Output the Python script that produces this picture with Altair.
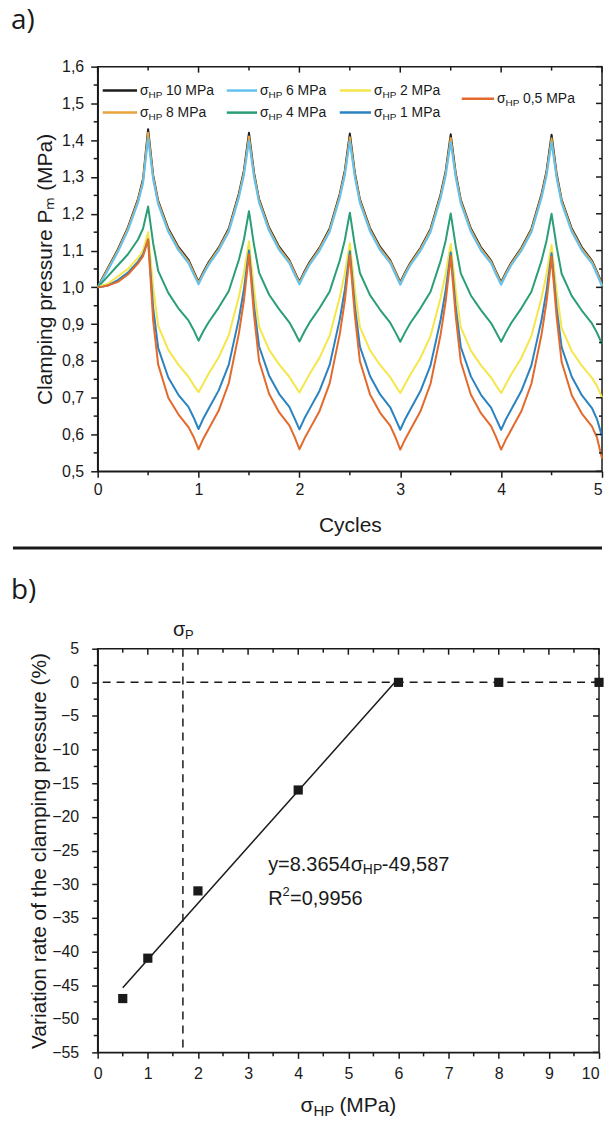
import altair as alt
import pandas as pd

FONT = "Liberation Sans"
TAG_FONT = "Open Sans"
INK = "#1a1a1a"

# ---------------- panel a : clamping pressure vs cycles ----------------
cycles = [0, 0.05, 0.1, 0.2, 0.3, 0.4, 0.45, 0.5, 0.55, 0.6, 0.7, 0.8, 0.9, 0.95,
          1, 1.05, 1.1, 1.2, 1.3, 1.4, 1.45, 1.5, 1.55, 1.6, 1.7, 1.8, 1.9, 1.95,
          2, 2.05, 2.1, 2.2, 2.3, 2.4, 2.45, 2.5, 2.55, 2.6, 2.7, 2.8, 2.9, 2.95,
          3, 3.05, 3.1, 3.2, 3.3, 3.4, 3.45, 3.5, 3.55, 3.6, 3.7, 3.8, 3.9, 3.95,
          4, 4.05, 4.1, 4.2, 4.3, 4.4, 4.45, 4.5, 4.55, 4.6, 4.7, 4.8, 4.9, 4.95,
          5]

p_10 = [1.000, 1.027, 1.052, 1.103, 1.163, 1.240, 1.295, 1.430, 1.305, 1.235, 1.160, 1.110, 1.075, 1.045,
        1.015, 1.043, 1.068, 1.108, 1.160, 1.255, 1.318, 1.420, 1.312, 1.240, 1.162, 1.110, 1.074, 1.044,
        1.015, 1.043, 1.068, 1.108, 1.160, 1.254, 1.317, 1.418, 1.311, 1.239, 1.161, 1.110, 1.074, 1.044,
        1.014, 1.042, 1.067, 1.107, 1.159, 1.253, 1.316, 1.416, 1.310, 1.238, 1.160, 1.109, 1.073, 1.043,
        1.014, 1.042, 1.067, 1.107, 1.159, 1.253, 1.316, 1.415, 1.309, 1.238, 1.160, 1.109, 1.073, 1.043,
        1.010]
p_8 = [1.000, 1.025, 1.050, 1.100, 1.160, 1.236, 1.290, 1.420, 1.300, 1.231, 1.156, 1.106, 1.071, 1.041,
       1.012, 1.040, 1.065, 1.105, 1.156, 1.250, 1.312, 1.410, 1.306, 1.236, 1.158, 1.106, 1.071, 1.041,
       1.012, 1.040, 1.065, 1.105, 1.156, 1.249, 1.311, 1.408, 1.305, 1.235, 1.157, 1.106, 1.071, 1.041,
       1.011, 1.039, 1.064, 1.104, 1.155, 1.248, 1.310, 1.406, 1.304, 1.234, 1.156, 1.105, 1.070, 1.040,
       1.011, 1.039, 1.064, 1.104, 1.155, 1.248, 1.310, 1.405, 1.303, 1.234, 1.156, 1.105, 1.070, 1.040,
       1.007]
p_6 = [1.000, 1.022, 1.046, 1.096, 1.155, 1.230, 1.283, 1.405, 1.293, 1.225, 1.151, 1.101, 1.066, 1.036,
       1.008, 1.036, 1.061, 1.100, 1.151, 1.244, 1.305, 1.398, 1.300, 1.230, 1.153, 1.101, 1.066, 1.036,
       1.008, 1.036, 1.061, 1.100, 1.151, 1.243, 1.304, 1.397, 1.299, 1.229, 1.152, 1.101, 1.066, 1.036,
       1.007, 1.035, 1.060, 1.099, 1.150, 1.242, 1.303, 1.395, 1.298, 1.228, 1.151, 1.100, 1.065, 1.035,
       1.007, 1.035, 1.060, 1.099, 1.150, 1.242, 1.303, 1.395, 1.297, 1.228, 1.151, 1.100, 1.065, 1.035,
       1.003]
p_4 = [1.000, 1.015, 1.030, 1.060, 1.090, 1.130, 1.160, 1.220, 1.120, 1.045, 0.985, 0.943, 0.910, 0.885,
       0.855, 0.882, 0.905, 0.945, 0.990, 1.075, 1.130, 1.207, 1.115, 1.040, 0.980, 0.940, 0.905, 0.880,
       0.853, 0.880, 0.904, 0.944, 0.989, 1.073, 1.128, 1.203, 1.113, 1.039, 0.979, 0.939, 0.904, 0.879,
       0.852, 0.879, 0.903, 0.943, 0.988, 1.072, 1.127, 1.201, 1.112, 1.038, 0.978, 0.938, 0.903, 0.878,
       0.852, 0.879, 0.903, 0.943, 0.988, 1.072, 1.127, 1.200, 1.111, 1.037, 0.977, 0.937, 0.902, 0.877,
       0.846]
p_2 = [1.000, 1.005, 1.010, 1.030, 1.050, 1.080, 1.100, 1.150, 1.000, 0.895, 0.830, 0.790, 0.757, 0.735,
       0.715, 0.740, 0.765, 0.810, 0.870, 0.975, 1.040, 1.125, 0.995, 0.893, 0.830, 0.790, 0.757, 0.735,
       0.714, 0.739, 0.764, 0.809, 0.869, 0.973, 1.038, 1.120, 0.993, 0.892, 0.829, 0.789, 0.756, 0.734,
       0.713, 0.738, 0.763, 0.808, 0.868, 0.972, 1.037, 1.118, 0.992, 0.891, 0.828, 0.788, 0.755, 0.733,
       0.713, 0.738, 0.763, 0.808, 0.868, 0.971, 1.036, 1.115, 0.990, 0.890, 0.827, 0.787, 0.754, 0.732,
       0.700]
p_1 = [1.000, 1.002, 1.005, 1.020, 1.040, 1.070, 1.090, 1.130, 0.945, 0.835, 0.755, 0.708, 0.675, 0.647,
       0.615, 0.645, 0.670, 0.720, 0.790, 0.915, 0.995, 1.100, 0.950, 0.840, 0.760, 0.710, 0.675, 0.645,
       0.614, 0.644, 0.669, 0.719, 0.789, 0.913, 0.993, 1.098, 0.948, 0.839, 0.759, 0.709, 0.674, 0.644,
       0.613, 0.643, 0.668, 0.718, 0.788, 0.912, 0.992, 1.095, 0.946, 0.838, 0.758, 0.708, 0.673, 0.643,
       0.613, 0.643, 0.668, 0.718, 0.788, 0.911, 0.991, 1.093, 0.945, 0.837, 0.757, 0.707, 0.672, 0.642,
       0.595]
p_05 = [1.000, 1.002, 1.005, 1.015, 1.035, 1.065, 1.085, 1.130, 0.910, 0.790, 0.700, 0.655, 0.620, 0.594,
        0.560, 0.590, 0.615, 0.665, 0.740, 0.875, 0.965, 1.090, 0.925, 0.800, 0.710, 0.660, 0.625, 0.595,
        0.560, 0.589, 0.614, 0.664, 0.739, 0.873, 0.963, 1.088, 0.923, 0.799, 0.709, 0.659, 0.624, 0.594,
        0.559, 0.588, 0.613, 0.663, 0.738, 0.872, 0.962, 1.085, 0.921, 0.798, 0.708, 0.658, 0.623, 0.593,
        0.559, 0.588, 0.613, 0.663, 0.738, 0.871, 0.961, 1.083, 0.920, 0.797, 0.707, 0.657, 0.622, 0.592,
        0.535]

series_names = ["10 MPa", "8 MPa", "6 MPa", "4 MPa", "2 MPa", "1 MPa", "0,5 MPa"]
series_values = [p_10, p_8, p_6, p_4, p_2, p_1, p_05]
series_colors = ["#1c1c1c", "#E8A43C", "#63C2F0", "#2A9E74", "#F5E64A", "#2A82C0", "#E3692C"]

a_x_major = [0, 1, 2, 3, 4, 5]
a_x_minor = [0.5, 1.5, 2.5, 3.5, 4.5]
a_y_major = [0.5, 0.6, 0.7, 0.8, 0.9, 1.0, 1.1, 1.2, 1.3, 1.4, 1.5, 1.6]
a_y_minor = [0.55, 0.65, 0.75, 0.85, 0.95, 1.05, 1.15, 1.25, 1.35, 1.45, 1.55]

# legend placement (in data units of panel a)
legend_x0 = [0.05, 0.05, 1.28, 1.28, 2.40, 2.40, 3.61]
legend_x1 = [0.39, 0.39, 1.58, 1.58, 2.71, 2.71, 3.93]
legend_y = [1.535, 1.475, 1.535, 1.475, 1.535, 1.475, 1.513]

# ---------------- panel b : variation rate vs sigma_HP ----------------
sigma_hp = [0.5, 1, 2, 4, 6, 8, 10]
variation = [-47, -41, -31, -16, 0, 0, 0]
fit_x = [0.5, 6.0]
fit_y = [-45.4, 0.6]
sigma_p = [1.7]

b_x_major = [0, 1, 2, 3, 4, 5, 6, 7, 8, 9, 10]
b_x_minor = [0.5, 1.5, 2.5, 3.5, 4.5, 5.5, 6.5, 7.5, 8.5, 9.5]
b_y_major = [-55, -50, -45, -40, -35, -30, -25, -20, -15, -10, -5, 0, 5]
b_y_minor = [-52.5, -47.5, -42.5, -37.5, -32.5, -27.5, -22.5, -17.5, -12.5, -7.5, -2.5, 2.5]

eq_pos = [3.4]
eq_y = [-27.1]
r2_y = [-32.2]

# ---------------- helpers ----------------
axis_common = dict(labelFont=FONT, labelFontSize=16, labelColor=INK, titleFont=FONT,
                   titleFontSize=21, titleFontWeight="normal", titleColor=INK,
                   domainColor=INK, domainWidth=1.5, tickColor=INK, tickWidth=1.5, grid=False)

# ---------------- panel a ----------------
WA, HA = 506, 406
xa = alt.Scale(domain=[0, 5], nice=False, zero=False)
ya = alt.Scale(domain=[0.5, 1.6], nice=False, zero=False)

xa_axis = alt.Axis(values=a_x_major, format="d", tickSize=6, labelPadding=4, labelFlush=False,
                   labelAlign=alt.condition("datum.value == 5", alt.value("right"), alt.value("center")),
                   title="Cycles", titlePadding=17, **axis_common)
ya_axis = alt.Axis(values=a_y_major, format=".1f", labelExpr="replace(datum.label, '.', ',')",
                   tickSize=7, labelPadding=7, title="Clamping pressure Pₘ (MPa)", titlePadding=6,
                   **axis_common)


def XA(field):
    return alt.X(field, scale=xa, axis=xa_axis)


def YA(field):
    return alt.Y(field, scale=ya, axis=ya_axis)


WB, HB = 503, 405
xb = alt.Scale(domain=[0, 10], nice=False, zero=False)
yb = alt.Scale(domain=[-55, 5], nice=False, zero=False)

xb_axis = alt.Axis(values=b_x_major, format="d", tickSize=6, labelPadding=7, labelFlush=False,
                   labelAlign=alt.condition("datum.value == 10", alt.value("right"), alt.value("center")),
                   title=None, **axis_common)
yb_axis = alt.Axis(values=b_y_major, format="d", tickSize=6, labelPadding=13,
                   title="Variation rate of the clamping pressure (%)", titlePadding=2, **axis_common)


def XB(field):
    return alt.X(field, scale=xb, axis=xb_axis)


def YB(field):
    return alt.Y(field, scale=yb, axis=yb_axis)


def xticks(vals, X, y0, y1):
    return alt.Chart(pd.DataFrame({"v": vals})).mark_rule(color=INK, strokeWidth=1.5).encode(
        x=X("v:Q"), y=alt.value(y0), y2=alt.value(y1))


def yticks(vals, Y, x0, x1):
    return alt.Chart(pd.DataFrame({"v": vals})).mark_rule(color=INK, strokeWidth=1.5).encode(
        y=Y("v:Q"), x=alt.value(x0), x2=alt.value(x1))


def label(text, x, y, size, font=FONT, **kw):
    return alt.Chart(pd.DataFrame({"t": [text]})).mark_text(
        font=font, fontSize=size, color=INK, **kw).encode(x=alt.value(x), y=alt.value(y), text="t:N")


a_layers = []
for i, (vals, col) in enumerate(zip(series_values, series_colors)):
    df = pd.DataFrame({"cycle": cycles, "p": vals})
    a_layers.append(
        alt.Chart(df).mark_line(color=col, strokeWidth=2, strokeJoin="round").encode(
            x=XA("cycle:Q"), y=YA("p:Q")))
a_layers += [
    xticks(a_x_minor, XA, HA, HA + 4),
    xticks(a_x_major, XA, 0, 6),
    xticks(a_x_minor, XA, 0, 4),
    yticks(a_y_minor, YA, 0, -4),
    yticks(a_y_major, YA, WA, WA - 6),
    yticks(a_y_minor, YA, WA, WA - 3),
]

leg = pd.DataFrame({"series": series_names, "x0": legend_x0, "x1": legend_x1, "y": legend_y})
leg_color = alt.Color("series:N", scale=alt.Scale(domain=series_names, range=series_colors), legend=None)
a_layers.append(alt.Chart(leg).mark_rule(strokeWidth=2.5).encode(
    x=XA("x0:Q"), x2="x1:Q", y=YA("y:Q"), color=leg_color))
base_leg = alt.Chart(leg).encode(x=XA("x1:Q"), y=YA("y:Q"))
a_layers.append(base_leg.mark_text(text="σ", align="left", baseline="middle", font=FONT,
                                   fontSize=14, dx=3, color=INK))
a_layers.append(base_leg.mark_text(text="HP", align="left", baseline="middle", font=FONT,
                                   fontSize=10, dx=11.5, dy=4, color=INK))
a_layers.append(base_leg.mark_text(align="left", baseline="middle", font=FONT, fontSize=14,
                                   dx=29, color=INK).encode(text="series:N"))
a_layers.append(label("a)", -87, -60, 28, font=TAG_FONT, align="left", baseline="top"))
a_layers.append(alt.Chart(pd.DataFrame({"t": [0]})).mark_rule(color=INK, strokeWidth=3).encode(
    x=alt.value(-85), x2=alt.value(WA), y=alt.value(483)))

panel_a = alt.layer(*a_layers).properties(width=WA, height=HA)

# ---------------- panel b ----------------
b_layers = [
    alt.Chart(pd.DataFrame({"s": sigma_hp, "v": variation})).mark_square(
        size=85, color=INK, opacity=1).encode(x=XB("s:Q"), y=YB("v:Q")),
    xticks(b_x_minor, XB, HB, HB + 4),
    xticks(b_x_major, XB, 0, 6),
    xticks(b_x_minor, XB, 0, 4),
    yticks(b_y_minor, YB, 0, -4),
    yticks(b_y_major, YB, WB, WB - 6),
    yticks(b_y_minor, YB, WB, WB - 3),
    alt.Chart(pd.DataFrame({"y": [0]})).mark_rule(color=INK, strokeWidth=1.5, strokeDash=[8, 6]).encode(
        y=YB("y:Q")),
    alt.Chart(pd.DataFrame({"x": sigma_p})).mark_rule(color=INK, strokeWidth=1.5, strokeDash=[8, 6]).encode(
        x=XB("x:Q")),
    alt.Chart(pd.DataFrame({"x": fit_x, "y": fit_y})).mark_line(color=INK, strokeWidth=1.5).encode(
        x=XB("x:Q"), y=YB("y:Q")),
]

# sigma_P label above the dashed line
sp = alt.Chart(pd.DataFrame({"x": sigma_p})).encode(x=XB("x:Q"), y=alt.value(-19))
b_layers.append(sp.mark_text(text="σ", align="left", baseline="middle", font=FONT, fontSize=20, dx=-10, color=INK))
b_layers.append(sp.mark_text(text="P", align="left", baseline="middle", font=FONT, fontSize=13, dx=2, dy=5, color=INK))

# regression annotation
eq = alt.Chart(pd.DataFrame({"x": eq_pos, "y": eq_y})).encode(x=XB("x:Q"), y=YB("y:Q"))
b_layers.append(eq.mark_text(text="y=8.3654σ", align="left", baseline="middle", font=FONT, fontSize=20, color=INK))
b_layers.append(eq.mark_text(text="HP", align="left", baseline="middle", font=FONT, fontSize=14, dx=95, dy=5, color=INK))
b_layers.append(eq.mark_text(text="-49,587", align="left", baseline="middle", font=FONT, fontSize=20, dx=114, color=INK))
r2 = alt.Chart(pd.DataFrame({"x": eq_pos, "y": r2_y})).encode(x=XB("x:Q"), y=YB("y:Q"))
b_layers.append(r2.mark_text(text="R", align="left", baseline="middle", font=FONT, fontSize=20, color=INK))
b_layers.append(r2.mark_text(text="2", align="left", baseline="middle", font=FONT, fontSize=13, dx=14.5, dy=-7, color=INK))
b_layers.append(r2.mark_text(text="=0,9956", align="left", baseline="middle", font=FONT, fontSize=20, dx=22, color=INK))

# x title with subscript
xt = alt.Chart(pd.DataFrame({"x": [5]})).encode(x=XB("x:Q"), y=alt.value(HB + 54))
b_layers.append(xt.mark_text(text="σ", align="left", baseline="middle", font=FONT, fontSize=21, dx=-48, color=INK))
b_layers.append(xt.mark_text(text="HP", align="left", baseline="middle", font=FONT, fontSize=15, dx=-35, dy=5, color=INK))
b_layers.append(xt.mark_text(text="(MPa)", align="left", baseline="middle", font=FONT, fontSize=21, dx=-9, color=INK))

b_layers.append(label("b)", -87, -72, 28, font=TAG_FONT, align="left", baseline="top"))

panel_b = alt.layer(*b_layers).properties(width=WB, height=HB)

chart = alt.vconcat(panel_a, panel_b, spacing=25).properties(
    padding={"left": 10, "top": 4, "right": 0, "bottom": 0}, background="white"
).configure_view(stroke=INK, strokeWidth=1.5)

chart.save("out.html", embed_options={"renderer": "svg", "actions": False})
